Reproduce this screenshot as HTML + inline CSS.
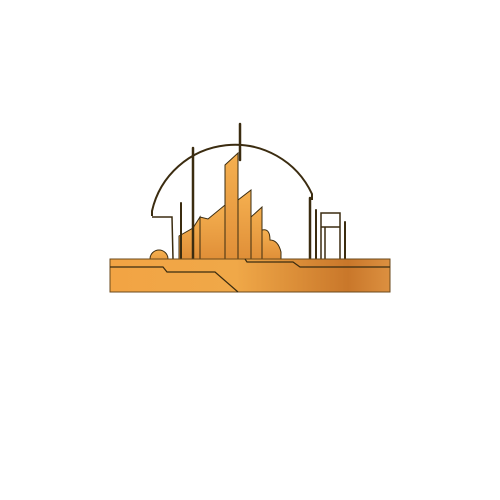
<!DOCTYPE html>
<html><head><meta charset="utf-8"><style>body{margin:0;background:#fff}svg{display:block}</style></head>
<body>
<svg width="500" height="500" viewBox="0 0 500 500" xmlns="http://www.w3.org/2000/svg">
<defs>
<linearGradient id="g" x1="0" y1="0" x2="1" y2="0">
<stop offset="0" stop-color="#f2a444"/><stop offset="0.45" stop-color="#f0a848"/><stop offset="0.85" stop-color="#c9772a"/><stop offset="1" stop-color="#dc9040"/>
</linearGradient>
<linearGradient id="gb" x1="0" y1="0" x2="0" y2="1">
<stop offset="0" stop-color="#f5b050"/><stop offset="1" stop-color="#e08f38"/>
</linearGradient>
</defs>
<g stroke="#3b2c10" stroke-width="1.2" fill="none">
<path d="M152,216 L152,211 A85,85 0 0 1 312,194 L312,200" stroke-width="2"/>
<path d="M152,217 L172,217 L173,259" stroke-width="1.5"/>
</g>
<g stroke="#3b2c10" stroke-width="1" fill="url(#gb)">
<circle cx="159" cy="259" r="9"/>
<polygon points="179,259 179,236 193,228 200,217 200,259"/>
<polygon points="200,259 200,217 208,219 225,205 225,259"/>
<polygon points="225,259 225,165 238,153 238,259"/>
<polygon points="238,259 238,200 251,190 251,259"/>
<polygon points="251,259 251,217 262,207 262,259"/>
<path d="M262,259 L262,230 Q270,228 270,240 Q278,240 281,252 L281,259 Z"/>
</g>
<g stroke="#3b2c10" stroke-linecap="round" fill="none">
<line x1="240" y1="124" x2="240" y2="160" stroke-width="2.5"/>
<line x1="193" y1="148" x2="193" y2="259" stroke-width="2.5"/>
<line x1="181" y1="203" x2="181" y2="259" stroke-width="2"/>
<line x1="310" y1="198" x2="310" y2="259" stroke-width="2.5"/>
<line x1="316" y1="210" x2="316" y2="259" stroke-width="2"/>
<path d="M321,259 L321,213 L340,213 L340,259 M321,227 L340,227 M325,227 L325,259" stroke-width="1.5"/>
<line x1="345" y1="222" x2="345" y2="259" stroke-width="2"/>
</g>
<g>
<rect x="110" y="259" width="280" height="33" fill="url(#g)" stroke="#6b4a1c" stroke-width="1"/>
<path d="M110,267 L163,267 L167,272 L215,272 L238,292" stroke="#3b2c10" stroke-width="1.2" fill="none"/>
<path d="M245,259 L247,262 L293,262 L300,267 L390,267" stroke="#3b2c10" stroke-width="1.2" fill="none"/>
</g>
</svg>
</body></html>
